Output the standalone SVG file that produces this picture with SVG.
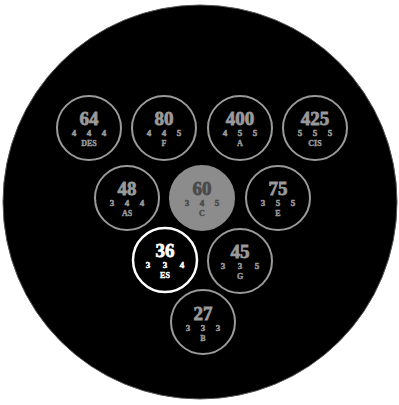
<svg xmlns="http://www.w3.org/2000/svg" width="399" height="405" viewBox="0 0 399 405">
<style>
.ring{fill:none;stroke:#9a9a9a;stroke-width:2}
text{font-family:"Liberation Serif",serif;font-weight:bold;fill:#9a9a9a;stroke:#9a9a9a;text-anchor:middle}
.num{font-size:19px;stroke-width:0.8}
.sub{font-size:9px;stroke-width:0.5}
.nm{font-size:8px;stroke-width:0.4}
.hl .ring{stroke:#ffffff;stroke-width:2.5}
.hl text{fill:#ffffff;stroke:#ffffff}
.fl .ring{fill:#8c8c8c;stroke:#8c8c8c}
.fl text{fill:#4a4a4a;stroke:#4a4a4a}
</style>
<rect width="399" height="405" fill="#ffffff"/>
<circle cx="200" cy="202" r="197" fill="#000000" stroke="#555" stroke-width="1"/>
<g id="n64" transform="translate(89,128)"><circle class="ring" r="32"/><text class="num" y="-3">64</text><text class="sub" x="-15" y="8">4</text><text class="sub" y="8">4</text><text class="sub" x="15" y="8">4</text><text class="nm" y="18">DES</text></g>
<g id="n80" transform="translate(164,128)"><circle class="ring" r="32"/><text class="num" y="-3">80</text><text class="sub" x="-15" y="8">4</text><text class="sub" y="8">4</text><text class="sub" x="15" y="8">5</text><text class="nm" y="18">F</text></g>
<g id="n400" transform="translate(240,128)"><circle class="ring" r="32"/><text class="num" y="-3">400</text><text class="sub" x="-15" y="8">4</text><text class="sub" y="8">5</text><text class="sub" x="15" y="8">5</text><text class="nm" y="18">A</text></g>
<g id="n425" transform="translate(315,128)"><circle class="ring" r="32"/><text class="num" y="-3">425</text><text class="sub" x="-15" y="8">5</text><text class="sub" y="8">5</text><text class="sub" x="15" y="8">5</text><text class="nm" y="18">CIS</text></g>
<g id="n48" transform="translate(127,198)"><circle class="ring" r="32"/><text class="num" y="-3">48</text><text class="sub" x="-15" y="8">3</text><text class="sub" y="8">4</text><text class="sub" x="15" y="8">4</text><text class="nm" y="18">AS</text></g>
<g id="n60" class="fl" transform="translate(202,198)"><circle class="ring" r="32"/><text class="num" y="-3">60</text><text class="sub" x="-15" y="8">3</text><text class="sub" y="8">4</text><text class="sub" x="15" y="8">5</text><text class="nm" y="18">C</text></g>
<g id="n75" transform="translate(278,198)"><circle class="ring" r="32"/><text class="num" y="-3">75</text><text class="sub" x="-15" y="8">3</text><text class="sub" y="8">5</text><text class="sub" x="15" y="8">5</text><text class="nm" y="18">E</text></g>
<g id="n36" class="hl" transform="translate(165,260)"><circle class="ring" r="32"/><text class="num" y="-3">36</text><text class="sub" x="-17" y="8">3</text><text class="sub" y="8">3</text><text class="sub" x="17" y="8">4</text><text class="nm" y="18">ES</text></g>
<g id="n45" transform="translate(240,261)"><circle class="ring" r="32"/><text class="num" y="-3">45</text><text class="sub" x="-17" y="8">3</text><text class="sub" y="8">3</text><text class="sub" x="17" y="8">5</text><text class="nm" y="18">G</text></g>
<g id="n27" transform="translate(203,322)"><circle class="ring" r="32"/><text class="num" y="-2">27</text><text class="sub" x="-15" y="9">3</text><text class="sub" y="9">3</text><text class="sub" x="15" y="9">3</text><text class="nm" y="19">B</text></g>
<g id="connectors"/>
</svg>
